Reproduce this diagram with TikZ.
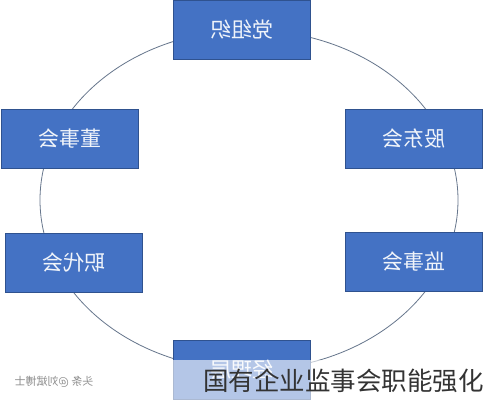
\documentclass[tikz,border=0pt]{standalone}
\usepackage{fontspec}
\usepackage{graphicx}
\newfontfamily\cjk{Noto Sans CJK SC}
\definecolor{boxfill}{HTML}{4472C4}
\definecolor{boxedge}{HTML}{2F528F}
\definecolor{ringline}{HTML}{66768C}
\begin{document}
\begin{tikzpicture}[x=1pt,y=-1pt,
  organ/.style={draw=boxedge,fill=boxfill,line width=0.8pt,minimum width=137pt,
    minimum height=59pt,inner sep=0pt,text=white!92!boxfill,font=\cjk\fontsize{21}{21}\selectfont},
  ring/.style={draw=ringline,line width=0.8pt},
  caption/.style={inner sep=0pt,text=black!80,font=\cjk\fontsize{25.5}{26}\selectfont},
  stamp/.style={inner sep=0pt,text=black!45,font=\cjk\fontsize{11}{11}\selectfont}]
  \useasboundingbox[fill=white] (0,0) rectangle (484,400);
  % ring behind the boxes
  \draw[ring] (249,200) ellipse (209 and 170);
  \node[organ] (party) at (241.5,29.5) {\reflectbox{党组织}};
  \node[organ] (board) at (69.5,138.5) {\reflectbox{董事会}};
  \node[organ] (share) at (414,138.5) {\reflectbox{股东会}};
  \node[organ] (staff) at (74,262.5) {\reflectbox{职代会}};
  \node[organ] (super) at (414,262) {\reflectbox{监事会}};
  \node[organ] (manag) at (242,369.5) {\reflectbox{经理层}};
  % caption band
  \fill[white,opacity=0.6] (173,360) rectangle (484,400);
  \node[caption] (title) at (343.5,381) {国有企业监事会职能强化};
  \node[stamp] (wmark) at (54,382) {\reflectbox{头条 @刘斌博士}};
\end{tikzpicture}
\end{document}
